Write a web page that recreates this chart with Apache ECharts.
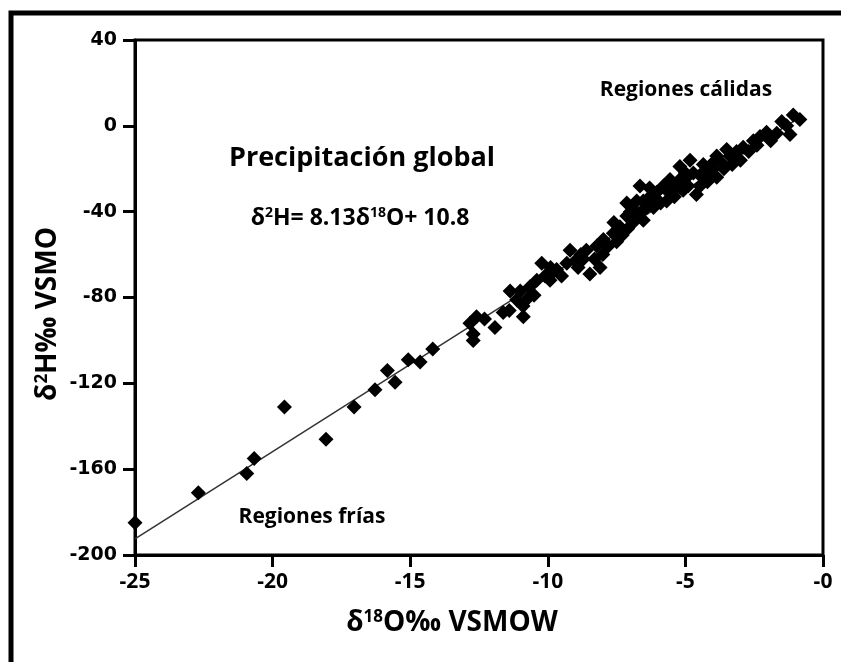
<!DOCTYPE html>
<html>
<head>
<meta charset="utf-8">
<script src="https://cdn.jsdelivr.net/npm/echarts@6/dist/echarts.min.js"></script>
<style>
  html, body { margin: 0; padding: 0; background: #fff; }
  #chart { width: 841px; height: 662px; }
</style>
</head>
<body>
<div id="chart"></div>
<script>
// ejes
var xTicks = [-25, -20, -15, -10, -5, 0];
var yTicks = [-200, -160, -120, -80, -40, 0, 40];

// muestras de precipitacion [d18O, d2H]
var muestras = [
  [-25, -185], [-22.7, -171], [-20.94, -162], [-20.67, -155], [-19.57, -131],
  [-18.06, -146], [-17.04, -131], [-16.28, -123], [-15.83, -114], [-15.55, -119.5],
  [-15.07, -109], [-14.64, -110], [-14.18, -104],
  [-12.83, -92], [-12.71, -97], [-12.71, -100], [-12.59, -89], [-12.3, -90],
  [-11.92, -94], [-11.62, -87], [-11.4, -86], [-11.37, -77], [-11.13, -81],
  [-10.89, -89], [-10.9, -84], [-10.65, -75], [-10.5, -79], [-10.4, -72],
  [-10.22, -64], [-10.1, -70], [-9.92, -72], [-9.8, -68], [-9.68, -67],
  [-9.5, -70], [-9.31, -64], [-9.19, -58], [-9.0, -63], [-8.9, -66],
  [-8.71, -62], [-8.6, -58], [-8.47, -69], [-8.3, -62], [-8.22, -56],
  [-8.1, -66], [-8.0, -60], [-7.98, -53], [-7.8, -56], [-7.62, -50],
  [-7.5, -54], [-7.38, -47], [-7.3, -51], [-7.13, -42], [-7.1, -48],
  [-6.89, -39], [-6.9, -45], [-6.77, -35], [-6.65, -28], [-6.6, -40],
  [-6.53, -44], [-6.41, -38], [-7.13, -36], [-6.53, -35], [-6.29, -33],
  [-6.16, -38], [-6.04, -31], [-5.9, -36], [-5.8, -28], [-5.68, -30],
  [-5.68, -35], [-5.56, -25], [-5.4, -33], [-5.32, -28], [-5.2, -19],
  [-5.08, -26], [-5.08, -30], [-4.95, -24], [-4.83, -16], [-4.71, -22],
  [-4.6, -32], [-4.47, -23], [-4.47, -28], [-4.35, -18], [-4.2, -26],
  [-4.11, -21], [-3.98, -17], [-3.86, -14], [-3.86, -24], [-3.6, -20],
  [-3.5, -11], [-3.38, -14], [-3.14, -12], [-3.0, -16], [-2.9, -10],
  [-2.7, -12], [-2.53, -7], [-2.29, -5], [-2.05, -3], [-1.9, -7],
  [-1.68, -3.5], [-1.5, 2], [-1.32, 0], [-1.2, -4], [-1.08, 5], [-0.84, 3],
  [-7.6, -45], [-7.0, -40], [-6.3, -29], [-6.0, -35], [-5.5, -31],
  [-5.2, -25], [-4.9, -28], [-4.3, -22], [-3.7, -17], [-3.3, -18],
  [-2.4, -9], [-9.9, -66], [-10.7, -80], [-11.0, -77], [-8.8, -60],
  [-6.8, -42], [-6.2, -36], [-5.0, -22], [-4.0, -20], [-7.4, -52]
];

// recta meteorica global: d2H = 8.13 d18O + 10.8
var recta = [[-25, -192.5], [-1, 2.7]];

var chart = echarts.init(document.getElementById('chart'));

var fuente = '"Open Sans", Lato, "Noto Sans", sans-serif';
function rich(size) {
  return {
    n: { fontFamily: fuente, fontWeight: 'bold', color: '#000', fontSize: size },
    s: { fontFamily: fuente, fontWeight: 'bold', color: '#000', fontSize: Math.round(size * 0.6), verticalAlign: 'top' }
  };
}

var option = {
  animation: false,
  backgroundColor: '#fff',
  grid: {
    left: 135, right: 18, top: 40, bottom: 107,
    show: true, borderColor: '#000', borderWidth: 3
  },
  xAxis: {
    type: 'value',
    min: xTicks[0], max: xTicks[xTicks.length - 1], interval: 5,
    axisLine: { show: true, onZero: false, lineStyle: { color: '#000', width: 3 } },
    axisTick: { show: true, length: 12, lineStyle: { color: '#000', width: 3 } },
    splitLine: { show: false },
    axisLabel: {
      margin: 17, color: '#000', fontFamily: fuente, fontWeight: 'bold', fontSize: 21,
      formatter: function (v) { return v === 0 ? '-0' : String(v); }
    }
  },
  yAxis: {
    type: 'value',
    min: yTicks[0], max: yTicks[yTicks.length - 1], interval: 40,
    axisLine: { show: true, onZero: false, lineStyle: { color: '#000', width: 3 } },
    axisTick: { show: true, length: 12, lineStyle: { color: '#000', width: 3 } },
    splitLine: { show: false },
    axisLabel: {
      margin: 18, color: '#000', fontFamily: '"DejaVu Sans", sans-serif', fontWeight: 'bold', fontSize: 19
    }
  },
  series: [
    {
      type: 'line',
      data: recta,
      symbol: 'none',
      lineStyle: { color: '#333', width: 1.5 },
      z: 2
    },
    {
      type: 'scatter',
      data: muestras,
      symbol: 'diamond',
      symbolSize: [15, 15],
      itemStyle: { color: '#000', opacity: 1 },
      z: 3
    }
  ],
  graphic: [
    // marco exterior
    { type: 'rect', shape: { x: 11, y: 13, width: 1000, height: 1000 },
      style: { fill: 'none', stroke: '#000', lineWidth: 5 }, silent: true },
    { type: 'text', x: 686, y: 90,
      style: { text: 'Regiones cálidas', font: 'bold 21px ' + fuente, fill: '#000', align: 'center', verticalAlign: 'middle' } },
    { type: 'text', x: 362, y: 158,
      style: { text: 'Precipitación global', font: 'bold 27px ' + fuente, fill: '#000', align: 'center', verticalAlign: 'middle' } },
    { type: 'text', x: 360, y: 218,
      style: { text: '{n|δ}{s|2}{n|H= 8.13δ}{s|18}{n|O+ 10.8}', rich: rich(23), align: 'center', verticalAlign: 'middle' } },
    { type: 'text', x: 312, y: 517,
      style: { text: 'Regiones frías', font: 'bold 21px ' + fuente, fill: '#000', align: 'center', verticalAlign: 'middle' } },
    { type: 'text', x: 452, y: 623,
      style: { text: '{n|δ}{s|18}{n|O‰ VSMOW}', rich: rich(28), align: 'center', verticalAlign: 'middle' } },
    { type: 'text', x: 48, y: 314, rotation: Math.PI / 2,
      style: { text: '{n|δ}{s|2}{n|H‰ VSMO}', rich: rich(28), align: 'center', verticalAlign: 'middle' } }
  ]
};

chart.setOption(option);
</script>
</body>
</html>
